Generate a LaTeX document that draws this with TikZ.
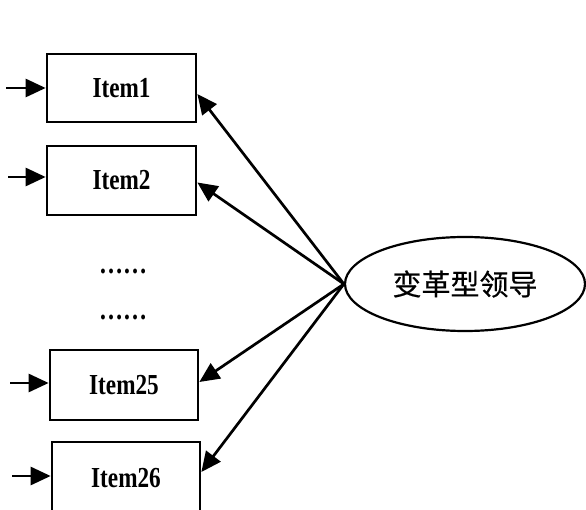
\documentclass[tikz,border=0pt]{standalone}
\usepackage{fontspec}
\setmainfont{Liberation Serif}
\newfontfamily\itemfont[FakeStretch=0.8]{Liberation Serif}
\newfontfamily\cjk[FakeBold=0.5]{Noto Sans CJK SC}
\usetikzlibrary{arrows.meta,shapes.geometric}
\tikzset{
  itembox/.style={draw, line width=2.7pt, inner sep=0pt, font=\itemfont\bfseries\fontsize{29}{32}\selectfont},
  arr/.style={line width=2.7pt, -{Triangle[length=20pt,width=18pt]}},
  dotstext/.style={inner sep=0pt, anchor=base, font=\itemfont\bfseries\fontsize{30}{32}\selectfont}
}
\begin{document}
\begin{tikzpicture}[x=1pt,y=-1pt]
\useasboundingbox (0,0) rectangle (586,510);
\node[itembox, minimum width=149pt, minimum height=68pt] (b1) at (121.5,88) {Item1};
\node[itembox, minimum width=149pt, minimum height=69pt] (b2) at (121.5,180.5) {Item2};
\node[itembox, minimum width=148pt, minimum height=70pt] (b25) at (124,385) {Item25};
\node[itembox, minimum width=148pt, minimum height=72pt] (b26) at (126,478) {Item26};
\node[dotstext] (d1) at (123,274) {……};
\node[dotstext] (d2) at (123,320) {……};
\node[draw, ellipse, line width=2.2pt, inner sep=0pt, minimum width=240pt, minimum height=94pt,
      font=\cjk\fontsize{29}{31}\selectfont] (lv) at (465,284) {变革型领导};
\coordinate (s1) at (6,88);
\coordinate (s2) at (8,177);
\coordinate (s25) at (10,383);
\coordinate (s26) at (12,476);
\draw[arr] (s1) -- (s1 -| b1.west);
\draw[arr] (s2) -- (s2 -| b2.west);
\draw[arr] (s25) -- (s25 -| b25.west);
\draw[arr] (s26) -- (s26 -| b26.west);
\draw[arr] (lv.west) -- ([yshift=-6pt]b1.east);
\draw[arr] (lv.west) -- ([yshift=-2pt]b2.east);
\draw[arr] (lv.west) -- ([yshift=3pt]b25.east);
\draw[arr] (lv.west) -- ([yshift=6pt]b26.east);
\end{tikzpicture}
\end{document}
